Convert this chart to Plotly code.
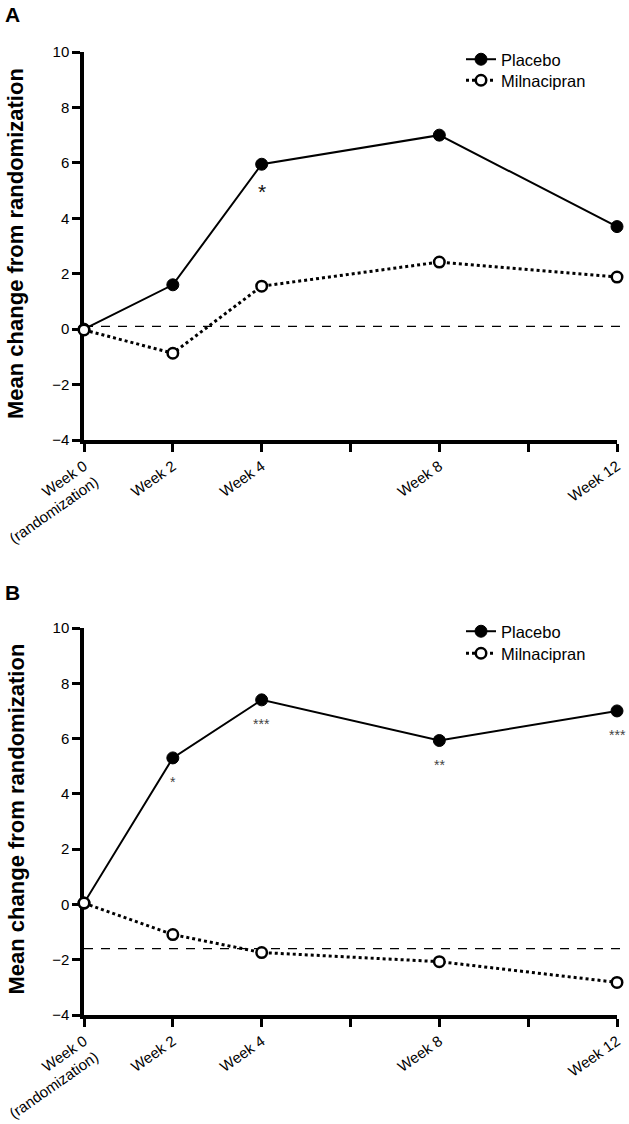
import plotly.graph_objects as go

# ---------------- data ----------------
weeks = [0, 2, 4, 8, 12]
week_tick_vals = [0, 2, 4, 6, 8, 10, 12]
week_tick_text = ["Week 0<br>(randomization)", "Week 2", "Week 4", "", "Week 8", "", "Week 12"]
y_ticks = [-4, -2, 0, 2, 4, 6, 8, 10]

placebo_A = [0.0, 1.6, 5.95, 7.0, 3.7]
milna_A = [-0.03, -0.87, 1.55, 2.42, 1.88]
ref_A = 0.1
sig_A = ["", "", "*", "", ""]

placebo_B = [0.05, 5.3, 7.4, 5.93, 7.0]
milna_B = [0.05, -1.09, -1.74, -2.07, -2.82]
ref_B = -1.6
sig_B = ["", "*", "***", "**", "***"]

series_names = ["Placebo", "Milnacipran"]
panel_labels = ["A", "B"]
y_title = "Mean change from randomization"

# ---------------- layout helpers ----------------
W, H = 629, 1124
FONT = "Liberation Sans, Arial, Helvetica, sans-serif"


def px_x(p):
    return p / W


def px_y(p):
    return 1 - p / H


x_dom = [px_x(84), px_x(617)]
panels = [
    dict(label=panel_labels[0], yaxis="y", xaxis="x", top=52, bottom=440, legends=["legend", "legend2"],
         placebo=placebo_A, milna=milna_A, ref=ref_A, sig=sig_A, label_y=14, leg_y=[42, 63]),
    dict(label=panel_labels[1], yaxis="y2", xaxis="x2", top=628, bottom=1015, legends=["legend3", "legend4"],
         placebo=placebo_B, milna=milna_B, ref=ref_B, sig=sig_B, label_y=592, leg_y=[614, 636]),
]

fig = go.Figure()
annotations = []
shapes = []

for i, p in enumerate(panels):
    fig.add_trace(go.Scatter(
        x=weeks, y=p["placebo"], name=series_names[0], mode="lines+markers",
        line=dict(color="black", width=2),
        marker=dict(symbol="circle", size=12, color="black", line=dict(color="black", width=1)),
        xaxis=p["xaxis"], yaxis=p["yaxis"], legend=p["legends"][0], cliponaxis=False,
    ))
    fig.add_trace(go.Scatter(
        x=weeks, y=p["milna"], name=series_names[1], mode="lines+markers",
        line=dict(color="black", width=3, dash="dot"),
        marker=dict(symbol="circle", size=10.5, color="white", line=dict(color="black", width=2.5)),
        xaxis=p["xaxis"], yaxis=p["yaxis"], legend=p["legends"][1], cliponaxis=False,
    ))
    shapes.append(dict(type="line", xref="paper", yref=p["yaxis"],
                       x0=px_x(84), x1=px_x(622), y0=p["ref"], y1=p["ref"],
                       line=dict(color="black", width=1.3, dash="9px,8px"), layer="below"))
    for wk, val, s in zip(weeks, p["placebo"], p["sig"]):
        if s:
            annotations.append(dict(
                x=wk, y=val, xref=p["xaxis"], yref=p["yaxis"], text=s, showarrow=False,
                yshift=-27 if i == 0 else -24,
                font=dict(family=FONT, size=21 if i == 0 else 14, color="#111" if i == 0 else "#444"),
            ))
    annotations.append(dict(
        x=px_x(3), y=px_y(p["label_y"]), xref="paper", yref="paper", xanchor="left", yanchor="middle",
        text="<b>%s</b>" % p["label"], showarrow=False, font=dict(family=FONT, size=21, color="black"),
    ))
    annotations.append(dict(
        x=px_x(16), y=px_y((p["top"] + p["bottom"]) / 2 - 2), xref="paper", yref="paper",
        xanchor="center", yanchor="middle", textangle=-90,
        text="<b>%s</b>" % y_title, showarrow=False, font=dict(family=FONT, size=22, color="black"),
    ))

axis_common = dict(
    showline=True, linecolor="black", linewidth=3.5, ticks="outside", tickcolor="black",
    tickwidth=2.8, ticklen=8, showgrid=False, zeroline=False, layer="below traces",
    tickfont=dict(family=FONT, size=15, color="black"), ticklabeloverflow="allow",
    automargin=False,
)

layout_axes = {}
for i, p in enumerate(panels):
    xa = "xaxis" if i == 0 else "xaxis2"
    ya = "yaxis" if i == 0 else "yaxis2"
    layout_axes[xa] = dict(axis_common, domain=x_dom, range=[0, 12], tickmode="array",
                           tickvals=week_tick_vals, ticktext=week_tick_text, tickangle=-35,
                           anchor=p["yaxis"])
    layout_axes[ya] = dict(axis_common, domain=[px_y(p["bottom"]), px_y(p["top"])], range=[-4, 10],
                           tickmode="array", tickvals=y_ticks, anchor=p["xaxis"])

legend_common = dict(
    xanchor="left", yanchor="top", bgcolor="rgba(0,0,0,0)", borderwidth=0,
    font=dict(family=FONT, size=16.5, color="black"), itemwidth=30, tracegroupgap=0,
)
legends = {}
for p in panels:
    for name, ly in zip(p["legends"], p["leg_y"]):
        legends[name] = dict(legend_common, x=px_x(461), y=px_y(ly))

fig.update_layout(
    template="none",
    width=W, height=H, margin=dict(l=0, r=0, t=0, b=0, autoexpand=False),
    paper_bgcolor="white", plot_bgcolor="white",
    showlegend=True,
    annotations=annotations, shapes=shapes,
    **legends,
    **layout_axes,
)

fig.write_html("out.html", config={"displayModeBar": False},
               post_script="document.body.style.margin='0';")
